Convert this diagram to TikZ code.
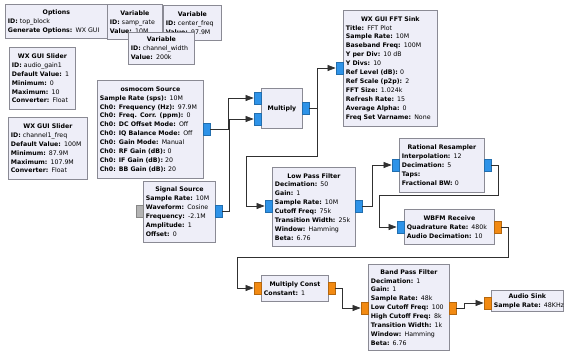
\documentclass[tikz,border=0pt]{standalone}
\usepackage{fontspec}
\setmainfont{DejaVu Sans}
\usetikzlibrary{arrows.meta}
\definecolor{blkfill}{HTML}{EEEEF8}
\definecolor{blkline}{HTML}{8A8A94}
\definecolor{cplx}{HTML}{2E93E8}
\definecolor{flt}{HTML}{F28A12}
\definecolor{nonetype}{HTML}{B4B4B4}
\definecolor{wirecol}{HTML}{303030}
\newcommand{\ttl}[1]{{\centering\textbf{#1}\par}}
\newcommand{\prm}[2]{\mbox{\textbf{#1:} #2}}

\begin{document}
\begin{tikzpicture}[x=1pt,y=-1pt,
    blk/.style={draw=blkline,fill=blkfill,line width=0.8pt,anchor=north west,
        align=left,inner xsep=2.5pt,inner ysep=2pt,font=\fontsize{6.25}{8.9}\selectfont},
    port/.style={draw=#1!75!black,fill=#1,line width=0.4pt,
        minimum width=7pt,minimum height=12pt,inner sep=0pt},
    inport/.style={port=#1,anchor=east},
    outport/.style={port=#1,anchor=west},
    wire/.style={draw=wirecol,line width=0.7pt,-{Triangle[length=8pt,width=6pt]}}]
    % 画布
    \clip (0,0) rectangle (564,351);
    \fill[white] (0,0) rectangle (564,351);
    % 变量与选项
    \node[blk,text width=97pt,minimum height=34pt] (opts) at (5,4)
        {\ttl{Options}\prm{ID}{top\_block}\\\prm{Generate Options}{WX GUI}};
    \node[blk,text width=50pt,minimum height=35pt] (samprate) at (107,4)
        {\ttl{Variable}\prm{ID}{samp\_rate}\\\prm{Value}{10M}};
    \node[blk,text width=53pt,minimum height=35pt] (cfreq) at (163,5)
        {\ttl{Variable}\prm{ID}{center\_freq}\\\prm{Value}{97.9M}};
    \node[blk,text width=61pt,minimum height=32pt] (chwidth) at (128,32)
        {\ttl{Variable}\prm{ID}{channel\_width}\\\prm{Value}{200k}};
    % 滑块
    \node[blk,text width=61pt,minimum height=62pt] (slgain) at (9,47)
        {\ttl{WX GUI Slider}\prm{ID}{audio\_gain1}\\\prm{Default Value}{1}\\
         \prm{Minimum}{0}\\\prm{Maximum}{10}\\\prm{Converter}{Float}};
    \node[blk,text width=74pt,minimum height=62pt] (slfreq) at (8,117)
        {\ttl{WX GUI Slider}\prm{ID}{channel1\_freq}\\\prm{Default Value}{100M}\\
         \prm{Minimum}{87.9M}\\\prm{Maximum}{107.9M}\\\prm{Converter}{Float}};
    % 信号源
    \node[blk,text width=101pt,minimum height=98pt] (osmo) at (97,80)
        {\ttl{osmocom Source}\prm{Sample Rate (sps)}{10M}\\
         \prm{Ch0: Frequency (Hz)}{97.9M}\\\prm{Ch0: Freq. Corr. (ppm)}{0}\\
         \prm{Ch0: DC Offset Mode}{Off}\\\prm{Ch0: IQ Balance Mode}{Off}\\
         \prm{Ch0: Gain Mode}{Manual}\\\prm{Ch0: RF Gain (dB)}{0}\\
         \prm{Ch0: IF Gain (dB)}{20}\\\prm{Ch0: BB Gain (dB)}{20}};
    \node[blk,text width=67pt,minimum height=61pt] (sig) at (143,181)
        {\ttl{Signal Source}\prm{Sample Rate}{10M}\\\prm{Waveform}{Cosine}\\
         \prm{Frequency}{-2.1M}\\\prm{Amplitude}{1}\\\prm{Offset}{0}};
    % 处理模块
    \node[blk,text width=36pt,minimum height=40pt] (mul) at (261,88)
        {\ttl{Multiply}};
    \node[blk,text width=89pt,minimum height=116pt] (fft) at (343,10)
        {\ttl{WX GUI FFT Sink}\prm{Title}{FFT Plot}\\\prm{Sample Rate}{10M}\\
         \prm{Baseband Freq}{100M}\\\prm{Y per Div}{10 dB}\\\prm{Y Divs}{10}\\
         \prm{Ref Level (dB)}{0}\\\prm{Ref Scale (p2p)}{2}\\\prm{FFT Size}{1.024k}\\
         \prm{Refresh Rate}{15}\\\prm{Average Alpha}{0}\\\prm{Freq Set Varname}{None}};
    \node[blk,text width=78pt,minimum height=79pt] (lpf) at (272,167)
        {\ttl{Low Pass Filter}\prm{Decimation}{50}\\\prm{Gain}{1}\\
         \prm{Sample Rate}{10M}\\\prm{Cutoff Freq}{75k}\\\prm{Transition Width}{25k}\\
         \prm{Window}{Hamming}\\\prm{Beta}{6.76}};
    \node[blk,text width=80pt,minimum height=54pt] (rr) at (399,138)
        {\ttl{Rational Resampler}\prm{Interpolation}{12}\\\prm{Decimation}{5}\\
         \prm{Taps}{}\\\prm{Fractional BW}{0}};
    \node[blk,text width=85pt,minimum height=35pt] (wbfm) at (404,209)
        {\ttl{WBFM Receive}\prm{Quadrature Rate}{480k}\\\prm{Audio Decimation}{10}};
    \node[blk,text width=62pt,minimum height=26pt] (mc) at (261,275)
        {\ttl{Multiply Const}\prm{Constant}{1}};
    \node[blk,text width=76pt,minimum height=86pt] (bpf) at (368,264)
        {\ttl{Band Pass Filter}\prm{Decimation}{1}\\\prm{Gain}{1}\\
         \prm{Sample Rate}{48k}\\\prm{Low Cutoff Freq}{100}\\\prm{High Cutoff Freq}{8k}\\
         \prm{Transition Width}{1k}\\\prm{Window}{Hamming}\\\prm{Beta}{6.76}};
    \node[blk,text width=67pt,minimum height=21pt] (asink) at (491,290)
        {\ttl{Audio Sink}\prm{Sample Rate}{48KHz}};
    % 端口
    \node[outport=cplx] (osmo_out) at (203,129) {};
    \node[inport=nonetype] (sig_in) at (143,211) {};
    \node[outport=cplx] (sig_out) at (215,211) {};
    \node[inport=cplx] (mul_in1) at (261,98) {};
    \node[inport=cplx] (mul_in2) at (261,119) {};
    \node[outport=cplx] (mul_out) at (302,108) {};
    \node[inport=cplx] (fft_in) at (343,68) {};
    \node[inport=cplx] (lpf_in) at (272,206) {};
    \node[outport=cplx] (lpf_out) at (355,206) {};
    \node[inport=cplx] (rr_in) at (399,165) {};
    \node[outport=cplx] (rr_out) at (484,165) {};
    \node[inport=cplx] (wbfm_in) at (404,227) {};
    \node[outport=flt] (wbfm_out) at (494,227) {};
    \node[inport=flt] (mc_in) at (261,288) {};
    \node[outport=flt] (mc_out) at (328,288) {};
    \node[inport=flt] (bpf_in) at (368,308) {};
    \node[outport=flt] (bpf_out) at (449,308) {};
    \node[inport=flt] (asink_in) at (491,303) {};
    % 连线
    \draw[wire] (osmo_out.east) -- ++(18,0) |- (mul_in1.west);
    \draw[wire] (sig_out.east) -- ++(7,0) |- (mul_in2.west);
    \draw[wire] (mul_out.east) -- ++(8,0) |- (fft_in.west);
    \draw[wire] (mul_out.east) -- ++(8,0) -- ++(0,48) -- ++(-71,0) |- (lpf_in.west);
    \draw[wire] (lpf_out.east) -- ++(10,0) |- (rr_in.west);
    \draw[wire] (rr_out.east) -- ++(7,0) -- ++(0,30) -- ++(-119,0) |- (wbfm_in.west);
    \draw[wire] (wbfm_out.east) -- ++(7,0) -- ++(0,30) -- ++(-271,0) |- (mc_in.west);
    \draw[wire] (mc_out.east) -- ++(7,0) |- (bpf_in.west);
    \draw[wire] (bpf_out.east) -- ++(8,0) |- (asink_in.west);
\end{tikzpicture}
\end{document}
